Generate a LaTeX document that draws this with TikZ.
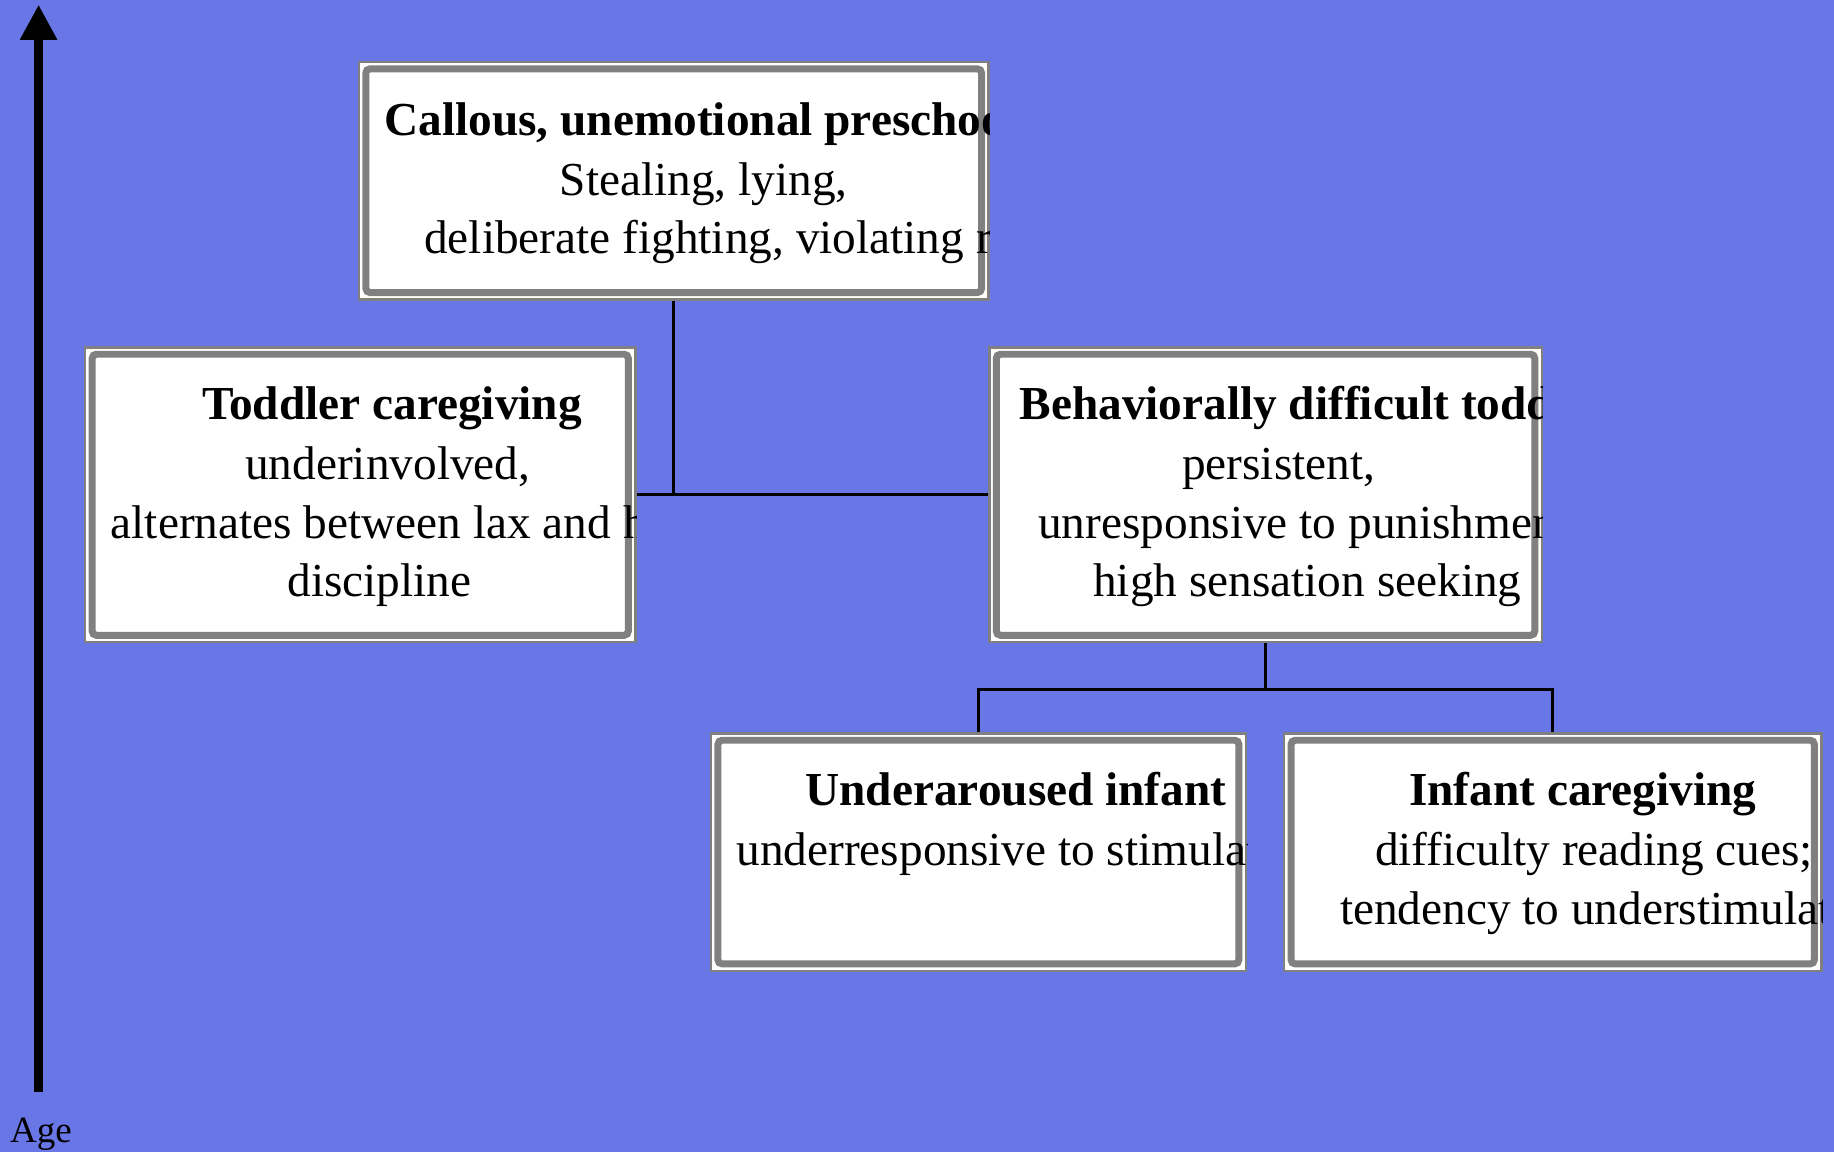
\documentclass[tikz,border=0pt]{standalone}
\usepackage{fontspec}
\setmainfont{Liberation Serif}
\usetikzlibrary{arrows.meta}
\definecolor{bg}{RGB}{104, 118, 230}
\definecolor{frame}{RGB}{128, 128, 128}

\tikzset{
  card/.style={draw=frame, line width=0.6pt, fill=white, inner sep=0pt},
  txt/.style={anchor=base west, inner sep=0pt, font=\fontsize{11.5}{14}\selectfont},
  link/.style={line width=0.7pt}
}

\begin{document}
\begin{tikzpicture}[x=0.01cm, y=-0.01cm]
  \fill[bg] (0, 0) rectangle (1568, 985);
  \useasboundingbox (0, 0) rectangle (1568, 985);

  % age axis
  \coordinate (axis-lo) at (33, 934);
  \coordinate (axis-hi) at (33, 4);
  \draw[line width=2pt, -{Triangle[length=0.3cm, width=0.3cm]}] (axis-lo) -- (axis-hi);
  \node[anchor=base west, inner sep=0pt, font=\fontsize{9}{11}\selectfont] (age) at (8, 977) {Age};

  % boxes
  \node[card, minimum width=5.38cm, minimum height=2.03cm] (cal) at (576, 154.5) {};
  \node[card, minimum width=4.70cm, minimum height=2.52cm] (tod) at (308, 423) {};
  \node[card, minimum width=4.72cm, minimum height=2.52cm] (beh) at (1082, 423) {};
  \node[card, minimum width=4.57cm, minimum height=2.03cm] (und) at (836.5, 728.5) {};
  \node[card, minimum width=4.59cm, minimum height=2.03cm] (inf) at (1327.5, 728.5) {};
  \foreach \b in {cal, tod, beh, und, inf} {
    \draw[frame, line width=1.7pt, rounded corners=1pt]
      ([shift={(7, 7)}]\b.north west) rectangle ([shift={(-7, -7)}]\b.south east);
  }

  % texts, cut off at the box edge
  \begin{scope}
    \clip (cal.south west) rectangle (cal.north east);
    \foreach [count=\n] \x/\y/\t in {328/116/{\bfseries Callous, unemotional preschoo},
        478/167/{Stealing, lying,}, 362/217/{deliberate fighting, violating r}}
      \node[txt] (cal-\n) at (\x, \y) {\t};
  \end{scope}
  \begin{scope}
    \clip (tod.south west) rectangle (tod.north east);
    \foreach [count=\n] \x/\y/\t in {172/359/{\bfseries Toddler caregiving},
        209/410/{underinvolved,}, 94/460/{alternates between lax and h}, 245/510/{discipline}}
      \node[txt] (tod-\n) at (\x, \y) {\t};
  \end{scope}
  \begin{scope}
    \clip (beh.south west) rectangle (beh.north east);
    \foreach [count=\n] \x/\y/\t in {871/359/{\bfseries Behaviorally difficult todd},
        1010/410/{persistent,}, 887/460/{unresponsive to punishmen}, 934/510/{high sensation seeking}}
      \node[txt] (beh-\n) at (\x, \y) {\t};
  \end{scope}
  \begin{scope}
    \clip (und.south west) rectangle (und.north east);
    \foreach [count=\n] \x/\y/\t in {688/689/{\bfseries Underaroused infant},
        629/740/{underresponsive to stimulat}}
      \node[txt] (und-\n) at (\x, \y) {\t};
  \end{scope}
  \begin{scope}
    \clip (inf.south west) rectangle (inf.north east);
    \foreach [count=\n] \x/\y/\t in {1204/689/{\bfseries Infant caregiving},
        1175/740/{difficulty reading cues;}, 1145/790/{tendency to understimulat}}
      \node[txt] (inf-\n) at (\x, \y) {\t};
  \end{scope}

  % connectors
  \draw[link] (cal.south) -- (cal.south |- tod.east);
  \draw[link] (tod.east) -- (beh.west);
  \draw[link] (beh.south) -- ++(0, 39) coordinate (fork);
  \draw[link] (und.north) |- (fork) -| (inf.north);

\end{tikzpicture}
\end{document}
